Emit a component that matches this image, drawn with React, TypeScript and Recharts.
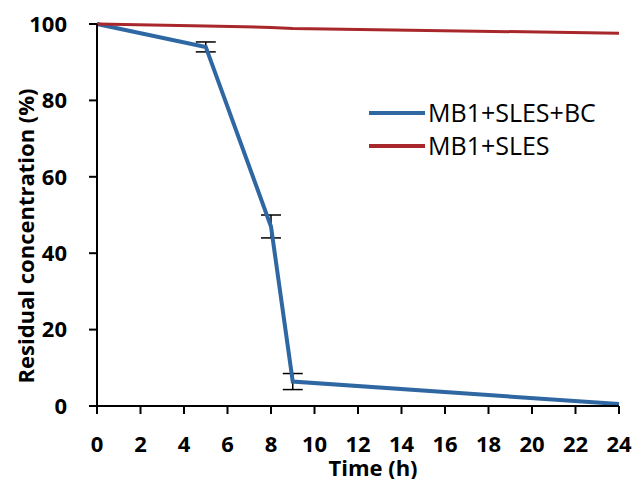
import { LineChart, Line, XAxis, YAxis, ErrorBar, Legend, Label } from 'recharts';

const times = [0, 5, 8, 9, 24];
const withBC = [100, 94, 47, 6.4, 0.5];
const withBCErr = [null, 1.3, 3, 2.1, null];
const withoutBC = [100, 99.5, 99.1, 98.8, 97.6];
const seriesNames = ['MB1+SLES+BC', 'MB1+SLES'];
const xTicks = [0, 2, 4, 6, 8, 10, 12, 14, 16, 18, 20, 22, 24];
const yTicks = [0, 20, 40, 60, 80, 100];

const BLUE = '#2f67a3';
const RED = '#a8272b';

const data = times.map((t, i) => ({ t, bc: withBC[i], bcErr: withBCErr[i], sles: withoutBC[i] }));

const tickStyle = { fontFamily: 'Open Sans', fontWeight: 700, fontSize: 22, fill: '#000' };

const YLabel = ({ viewBox }: any) => {
  const cx = 25;
  const cy = viewBox.y + viewBox.height / 2 + 21;
  return (
    <text x={cx} y={cy} transform={`rotate(-90 ${cx} ${cy})`} textAnchor="middle" dominantBaseline="central"
      style={tickStyle}>
      Residual concentration (%)
    </text>
  );
};

const LegendBox = ({ payload }: any) => {
  const items = [...payload].sort((a: any, b: any) => seriesNames.indexOf(a.value) - seriesNames.indexOf(b.value));
  return (
    <div style={{ fontFamily: 'Open Sans', fontSize: 25, color: '#000', lineHeight: '33px' }}>
      {items.map((p: any) => (
        <div key={p.value} style={{ display: 'flex', alignItems: 'center' }}>
          <span style={{ display: 'inline-block', width: 56, height: 4, background: p.color, marginRight: 3 }} />
          <span>{p.value}</span>
        </div>
      ))}
    </div>
  );
};

export default function App() {
  return (
    <div style={{ position: 'absolute', left: 0, top: 0, background: '#fff' }}>
      <LineChart width={636} height={479} data={data} margin={{ top: 24, right: 17, bottom: 0, left: 0 }}>
        <XAxis dataKey="t" type="number" domain={[0, 24]} ticks={xTicks} height={73}
          tickSize={8} tickMargin={22} tick={tickStyle}
          axisLine={{ stroke: '#000', strokeWidth: 2 }} tickLine={{ stroke: '#000', strokeWidth: 2 }}>
          <Label value="Time (h)" position="insideBottom" offset={3} dx={15} style={tickStyle} />
        </XAxis>
        <YAxis type="number" domain={[0, 100]} ticks={yTicks} width={97}
          tickSize={8} tickMargin={22} tick={tickStyle}
          axisLine={{ stroke: '#000', strokeWidth: 2 }} tickLine={{ stroke: '#000', strokeWidth: 2 }}>
          <Label content={<YLabel />} />
        </YAxis>
        <Legend content={<LegendBox />} layout="vertical" align="center" verticalAlign="middle"
          wrapperStyle={{ position: 'absolute', left: 369, top: 96, width: 260 }} />
        <Line dataKey="bc" name={seriesNames[0]} stroke={BLUE} strokeWidth={4} dot={false} isAnimationActive={false}>
          <ErrorBar dataKey="bcErr" width={10} stroke="#000" strokeWidth={1.5} direction="y" isAnimationActive={false} />
        </Line>
        <Line dataKey="sles" name={seriesNames[1]} stroke={RED} strokeWidth={3} dot={false} isAnimationActive={false} />
      </LineChart>
    </div>
  );
}
